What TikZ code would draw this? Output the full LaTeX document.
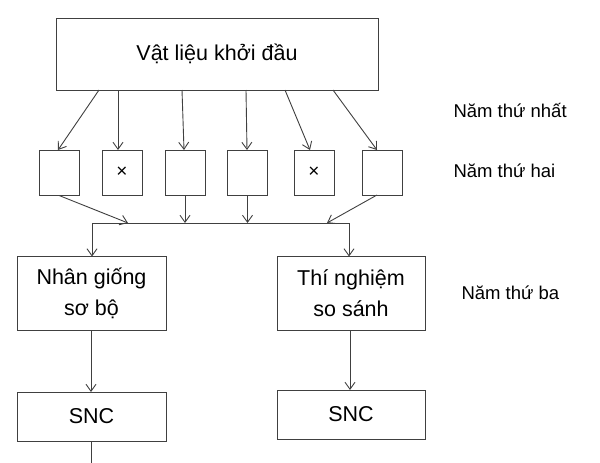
\documentclass[tikz,border=0pt]{standalone}
\usepackage{fontspec}
\setmainfont{Liberation Sans}
\usetikzlibrary{arrows.meta}
\begin{document}
\begin{tikzpicture}[x=1pt,y=-1pt,
 box/.style={draw=black!75,line width=0.9pt,inner sep=0pt},
 sm/.style={box,minimum width=40pt,minimum height=45pt},
 arr/.style={draw=black!75,line width=0.9pt,-{Straight Barb[length=7pt,width=10pt]}},
 ln/.style={draw=black!75,line width=0.9pt},
 lab/.style={anchor=west,font=\fontsize{18.5}{22}\selectfont}]
\useasboundingbox (0,0) rectangle (600,463);
\node[box,minimum width=322pt,minimum height=72pt,font=\fontsize{21.5}{25}\selectfont] (top) at (217,54) {Vật liệu khởi đầu};
\node[sm] (b1) at (59,172.5) {};
\node[sm] (b2) at (122,172.5) {\fontsize{19}{22}\selectfont×};
\node[sm] (b3) at (185,172.5) {};
\node[sm] (b4) at (247.5,172.5) {};
\node[sm] (b5) at (314,172.5) {\fontsize{19}{22}\selectfont×};
\node[sm] (b6) at (382,172.5) {};
\coordinate (t1) at (99,90); \coordinate (t2) at (118,90); \coordinate (t3) at (182,90);
\coordinate (t4) at (246,90); \coordinate (t5) at (285,90); \coordinate (t6) at (333,90);
\draw[arr] (t1) -- (58,150);
\draw[arr] (t2) -- (118,150);
\draw[arr] (t3) -- (184,150);
\draw[arr] (t4) -- (247,150);
\draw[arr] (t5) -- (310,150);
\draw[arr] (t6) -- (377,150);
\coordinate (hl) at (92,223); \coordinate (hr) at (349,223);
\draw[ln] (hl) -- (hr);
\draw[arr] (b1.south) -- (128,223);
\draw[arr] (b3.south) -- (185,223);
\draw[arr] (b4.south) -- (247.5,223);
\draw[arr] (377,195) -- (327,223);
\node[box,minimum width=149pt,minimum height=74pt,align=center,font=\fontsize{21.5}{31}\selectfont] (nl) at (91.5,293.5) {Nhân giống\\sơ bộ};
\node[box,minimum width=148pt,minimum height=74pt,align=center,font=\fontsize{21.5}{31}\selectfont] (nr) at (351,293.5) {Thí nghiệm\\so sánh};
\draw[arr] (hl) -- (92,256.5);
\draw[arr] (hr) -- (349,256.5);
\node[box,minimum width=149pt,minimum height=49pt,font=\fontsize{21.5}{25}\selectfont] (sl) at (91.5,416.5) {SNC};
\node[box,minimum width=148pt,minimum height=49pt,font=\fontsize{21.5}{25}\selectfont] (sr) at (351,414.5) {SNC};
\draw[arr] (nl.south -| 91,0) -- (91,392);
\draw[arr] (nr.south -| 350,0) -- (350,390);
\coordinate (e) at (91,463);
\draw[ln] (sl.south -| 91,0) -- (e);
\node[lab] (l1) at (450,110) {Năm thứ nhất};
\node[lab] (l2) at (450,171) {Năm thứ hai};
\node[lab] (l3) at (458,293) {Năm thứ ba};
\end{tikzpicture}
\end{document}
